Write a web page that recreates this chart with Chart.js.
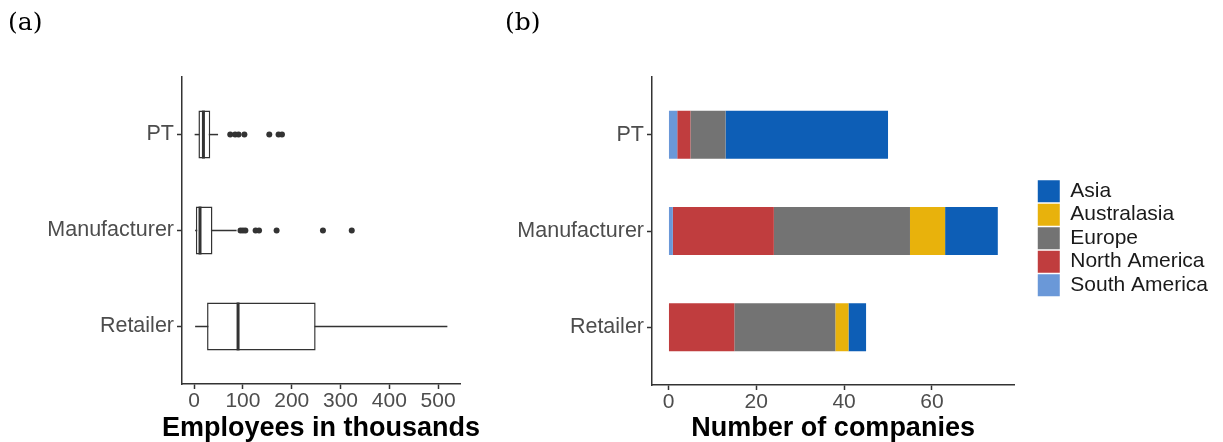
<!DOCTYPE html>
<html>
<head>
<meta charset="utf-8">
<script src="https://cdn.jsdelivr.net/npm/chart.js@4.4.1/dist/chart.umd.min.js"></script>
<style>
  html, body { margin: 0; padding: 0; background: #fff; }
  #wrap { position: relative; width: 1223px; height: 442px; overflow: hidden; background: #fff; }
  canvas { position: absolute; top: 0; }
  #chartA { left: 0; }
  #chartB { left: 490px; }
  .tag { position: absolute; top: 9px; font-family: 'DejaVu Serif', 'Liberation Serif', serif;
         font-size: 25px; line-height: 1; color: #000; }
</style>
</head>
<body>
<div id="wrap">
  <canvas id="chartA" width="490" height="442"></canvas>
  <canvas id="chartB" width="733" height="442"></canvas>
  <div class="tag" style="left:8px">(a)</div>
  <div class="tag" style="left:505px">(b)</div>
</div>
<script>
// Company types, top to bottom
const categories = ['PT', 'Manufacturer', 'Retailer'];

// (a) Employees in thousands: box-plot summary per company type
const empMin    = [1, 2, 2];
const empQ1     = [8.8, 3.5, 26.5];
const empMedian = [19, 12, 90];
const empQ3     = [33, 37.5, 249];
const empMax    = [49, 87, 519];
const outliersPT           = [74, 84, 91, 103, 154, 173, 180];
const outliersManufacturer = [95, 100, 105, 126, 133, 169, 264, 323];
const outliersRetailer     = [];
const empTicks = [0, 100, 200, 300, 400, 500];

// (b) Number of companies per region, stacked left to right
const regions      = ['South America', 'North America', 'Europe', 'Australasia', 'Asia'];
const southAmerica = [2, 1, 0];
const northAmerica = [3, 23, 15];
const europe       = [8, 31, 23];
const australasia  = [0, 8, 3];
const asia         = [37, 12, 4];
const companyTicks = [0, 20, 40, 60];

const regionColors = ['#6A98D8', '#C03D3E', '#737373', '#E8B20C', '#0D5EB6'];

const FONT = "'Liberation Sans', Arial, Helvetica, sans-serif";
const INK = '#333333';
Chart.defaults.font.family = FONT;

function axisLine() {
  return { display: true, color: INK, width: 1.5 };
}
function tickMarks() {
  return { display: true, drawOnChartArea: false, drawTicks: true, tickLength: 5,
           tickWidth: 1.5, tickColor: INK, offset: false };
}

// Discrete axis on a linear scale: one unit per category, 0.6 unit margin at each end
function categoryAxis(width) {
  return {
    type: 'linear', reverse: true, min: 0.4, max: categories.length + 0.6, offset: false,
    afterBuildTicks: s => { s.ticks = categories.map((c, i) => ({ value: i + 1 })); },
    ticks: { callback: v => categories[v - 1], color: '#4D4D4D', font: { size: 21.5 },
             padding: 3, autoSkip: false },
    grid: tickMarks(),
    border: axisLine(),
    afterFit: s => { s.width = width; }
  };
}

function valueAxis(min, max, tickValues, height) {
  return {
    type: 'linear', min: min, max: max, offset: false,
    afterBuildTicks: s => { s.ticks = tickValues.map(v => ({ value: v })); },
    ticks: { color: '#4D4D4D', font: { size: 21 }, padding: 0, maxRotation: 0, minRotation: 0,
             autoSkip: false, callback: v => String(v) },
    grid: tickMarks(),
    border: axisLine(),
    afterFit: s => { s.height = height; }
  };
}

// Bold x-axis title centred under the plot area, allowed to run wider than the plot
const bottomTitle = {
  id: 'bottomTitle',
  afterDraw(chart, args, opts) {
    const s = chart.scales.x;
    const ctx = chart.ctx;
    ctx.save();
    ctx.font = 'bold ' + opts.size + 'px ' + FONT;
    ctx.fillStyle = opts.color;
    ctx.textAlign = 'center';
    ctx.textBaseline = 'middle';
    ctx.fillText(opts.text, (s.left + s.right) / 2, s.bottom - opts.size / 2);
    ctx.restore();
  }
};

// ---------- (a) box plots ----------
const outlierLists = [outliersPT, outliersManufacturer, outliersRetailer];
const empAll = [].concat(empMin, empMax, ...outlierLists);
const empLo = Math.min(...empAll), empHi = Math.max(...empAll);
const empPad = 0.05 * (empHi - empLo);

const outlierPoints = [];
outlierLists.forEach((list, i) => list.forEach(v => outlierPoints.push({ x: v, y: i + 1 })));

const whiskerSets = categories.map((c, i) => ({
  type: 'line',
  data: [{ x: empMin[i], y: i + 1 }, { x: empMax[i], y: i + 1 }],
  borderColor: INK, borderWidth: 1.5, pointRadius: 0, fill: false, yAxisID: 'y'
}));

new Chart(document.getElementById('chartA'), {
  type: 'bar',
  plugins: [bottomTitle],
  data: {
    datasets: [
      {
        type: 'scatter',
        data: categories.map((c, i) => ({ x: empMedian[i], y: i + 1 })),
        pointStyle: 'line', pointRotation: 90,
        pointRadius: ctx => {
          const y = ctx.chart.scales.y;
          return Math.abs(y.getPixelForValue(2) - y.getPixelForValue(1)) * 0.25;
        },
        pointBorderColor: INK, pointBorderWidth: 3, yAxisID: 'y'
      },
      {
        type: 'scatter',
        data: outlierPoints,
        pointStyle: 'circle', pointRadius: 3,
        pointBackgroundColor: INK, pointBorderColor: INK, pointBorderWidth: 0, yAxisID: 'y'
      },
      {
        type: 'bar',
        data: categories.map((c, i) => ({ x: [empQ1[i], empQ3[i]], y: i + 1 })),
        backgroundColor: '#FFFFFF', borderColor: INK, borderWidth: 1.5, borderSkipped: false,
        barPercentage: 0.5, categoryPercentage: 1, yAxisID: 'y'
      },
      ...whiskerSets
    ]
  },
  options: {
    indexAxis: 'y',
    responsive: false, animation: false, events: [],
    layout: { padding: { top: 77, right: 30, bottom: 0, left: 0 } },
    plugins: {
      legend: { display: false }, tooltip: { enabled: false },
      bottomTitle: { text: 'Employees in thousands', size: 27, color: '#000' }
    },
    scales: {
      x: valueAxis(empLo - empPad, empHi + empPad, empTicks, 58),
      y: categoryAxis(182)
    }
  }
});

// ---------- (b) stacked bars ----------
const regionSeries = [southAmerica, northAmerica, europe, australasia, asia];
const totals = categories.map((c, i) => regionSeries.reduce((s, a) => s + a[i], 0));
const maxTotal = Math.max(...totals);

const axisB = valueAxis(-0.05 * maxTotal, 1.05 * maxTotal, companyTicks, 57);
axisB.stacked = true;
const catB = categoryAxis(162);
catB.stacked = true;

new Chart(document.getElementById('chartB'), {
  type: 'bar',
  plugins: [bottomTitle],
  data: {
    datasets: regions.map((r, k) => ({
      label: r,
      data: regionSeries[k].map((v, i) => ({ x: v, y: i + 1 })),
      backgroundColor: regionColors[k], borderColor: regionColors[k], borderWidth: 0,
      barPercentage: 0.5, categoryPercentage: 1, yAxisID: 'y'
    }))
  },
  options: {
    indexAxis: 'y',
    responsive: false, animation: false, events: [],
    layout: { padding: { top: 77, right: 5, bottom: 0, left: 0 } },
    plugins: {
      tooltip: { enabled: false },
      bottomTitle: { text: 'Number of companies', size: 27, color: '#000' },
      legend: {
        position: 'right', align: 'center', fullSize: false, reverse: true, maxWidth: 240,
        title: { display: true, text: '', font: { size: 1 }, padding: { top: 6.6, bottom: 6.6 } },
        labels: { boxWidth: 22, boxHeight: 22, padding: 1.5, color: '#1A1A1A', font: { size: 21 } }
      }
    },
    scales: {
      x: axisB,
      y: catB,
      // spacer between the plot and the legend
      gap: {
        type: 'linear', position: 'right', display: true,
        grid: { display: false }, border: { display: false }, ticks: { display: false },
        afterFit: s => { s.width = 22; }
      }
    }
  }
});
</script>
</body>
</html>
